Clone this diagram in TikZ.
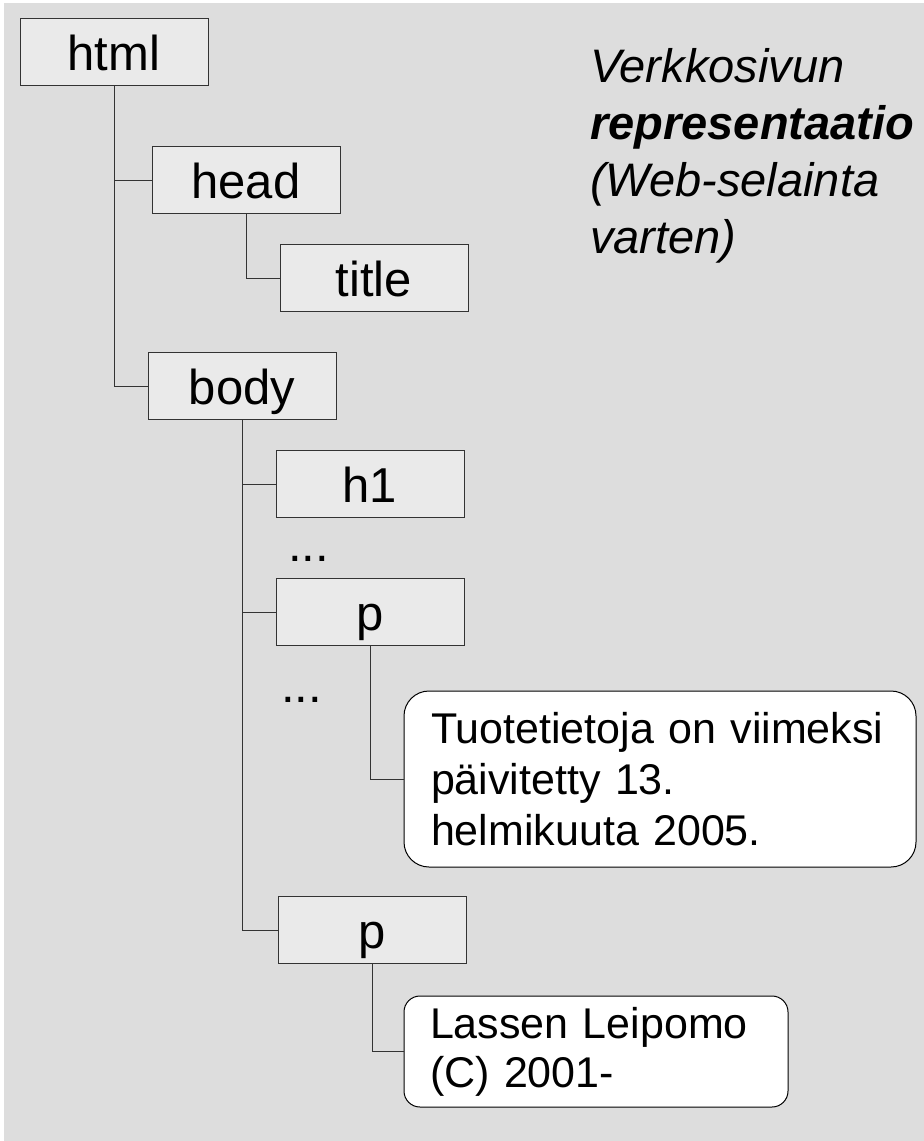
\documentclass[tikz,border=0pt]{standalone}
\usepackage{fontspec}
\setmainfont{Liberation Sans}
\usepackage{tikz}
\usetikzlibrary{shapes.geometric}
\definecolor{bggray}{HTML}{DDDDDD}
\definecolor{tagfill}{HTML}{EAEAEA}
\definecolor{tagline}{HTML}{333333}
\newcommand{\tagfont}{\fontsize{49}{58}\selectfont}
\newcommand{\leaffont}{\fontsize{43}{51}\selectfont}
\newcommand{\notefont}{\fontsize{47}{57}\selectfont}
\tikzstyle{tag} = [rectangle, minimum width=188pt, minimum height=67pt, inner sep=0pt, text centered, text height=40pt, text depth=3pt, draw=tagline, line width=1pt, fill=tagfill, font=\tagfont]
\tikzstyle{leaf} = [rectangle, rounded corners=25pt, draw=black, line width=1pt, fill=white, align=left, inner xsep=27pt, inner ysep=0pt, font=\leaffont]
\tikzstyle{branch} = [line width=1pt, draw=black!80]

\begin{document}
\begin{tikzpicture}[x=1pt, y=-1pt, node distance=98pt]

\useasboundingbox (0,0) rectangle (924,1141);
\fill [bggray] (4,3) rectangle (924,1141);

\node (html) [tag] at (114,52) {html};
\node (head) [tag, below of=html, xshift=132pt, yshift=-30pt] {head};
\node (title) [tag, below of=head, xshift=128pt] {title};
\node (body) [tag, below of=head, xshift=-4pt, yshift=-108pt] {body};
\node (h1) [tag, below of=body, xshift=128pt] {h1};
\node (p1) [tag, below of=h1, yshift=-30pt] {p};
\node (p2) [tag, below of=p1, xshift=2pt, yshift=-220pt] {p};
\node (text1) [leaf, below of=p1, xshift=290pt, yshift=-69pt, text width=458pt, minimum height=176pt] {Tuotetietoja on viimeksi\\päivitetty 13.\\helmikuuta 2005.};
\node (text2) [leaf, below of=p2, xshift=224pt, yshift=-23.5pt, text width=332pt, minimum height=111pt, rounded corners=16pt, font=\fontsize{43}{49}\selectfont, inner xsep=26pt] {Lassen Leipomo\\(C) 2001-};

% omitted siblings
\node (dots1) [anchor=base, inner sep=0pt, font=\tagfont] at (308.5,561) {...};
\node (dots2) [anchor=base, inner sep=0pt, font=\tagfont] at (301.5,702) {...};

\node (note) [anchor=north west, align=left, inner sep=0pt, font=\notefont\itshape] at (590,48) {Verkkosivun\\\textbf{representaatio}\\(Web-selainta\\varten)};

\draw [branch] (html) |- (head);
\draw [branch] (html) |- (body);
\draw [branch] (head) |- (title);
\draw [branch] (body) |- (h1);
\draw [branch] (body) |- (p1);
\draw [branch] (body) |- (p2);
\draw [branch] (p1) |- (text1);
\draw [branch] (p2) |- (text2);

\end{tikzpicture}
\end{document}
